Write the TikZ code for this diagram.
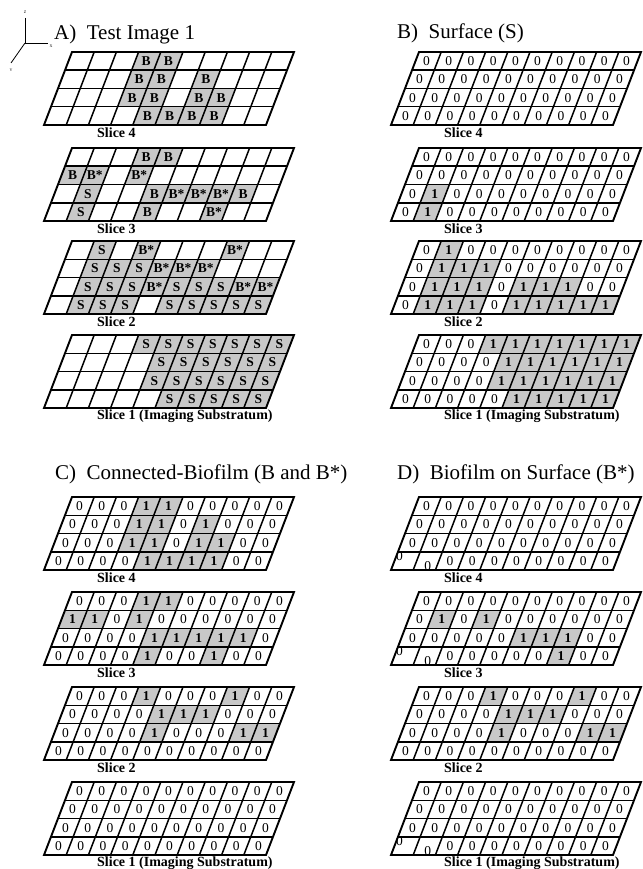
\documentclass[tikz,border=0pt]{standalone}
\usepackage{fontspec}
\setmainfont{Liberation Serif}

% one row of a slice: #1 slice name, #2 row number, #3 cell values
\newcommand{\gridrow}[3]{%
  \foreach \val [count=\col] in {#3} {
    \tikzset{v\val}
    \fill[\cellfill] (\col-1,#2-1) -- (\col,#2-1) -- (\col,#2) -- (\col-1,#2) -- cycle;
    \node[celltext, xshift=\cellxs, yshift=\cellys] (#1-#2-\col)
      at (\col-.5,#2-.5) {\celltxt};
  }}
% one slice: 10 x 4 slanted cells, top-left corner at (#2,#3), rows #4..#7
\newcommand{\slicegrid}[7]{%
  \begin{scope}[shift={(#2,#3)}, x={(22.2pt,0pt)}, y={(-7pt,-18.25pt)}]
    \gridrow{#1}{1}{#4}
    \gridrow{#1}{2}{#5}
    \gridrow{#1}{3}{#6}
    \gridrow{#1}{4}{#7}
    \foreach \k in {1,...,9} \draw[cellline] (\k,0) -- (\k,4);
    \foreach \k in {1,2,3} \draw[cellline] (0,\k) -- (10,\k);
    \draw[frameline] (0,0) -- (10,0) -- (10,4) -- (0,4) -- cycle;
  \end{scope}}

\begin{document}
\begin{tikzpicture}[
    x=1pt, y=-1pt,
    cellline/.style   = {line width=1.5pt},
    frameline/.style  = {line width=1.9pt},
    axisline/.style   = {line width=0.8pt},
    axislbl/.style    = {font=\fontsize{4}{4}\selectfont, inner sep=0pt},
    title/.style      = {font=\fontsize{21}{24}\selectfont, inner sep=0pt},
    slicelbl/.style   = {font=\fontsize{14}{16}\selectfont\bfseries,
                         inner sep=0pt, anchor=west},
    celltext/.style   = {font=\fontsize{13.5}{14}\selectfont\bfseries,
                         inner sep=0pt},
    % what a cell value puts in the cell
    celltxt/.store in = \celltxt,
    cellfill/.store in= \cellfill,
    cellxs/.store in  = \cellxs,
    cellys/.store in  = \cellys,
    cellreset/.style  = {celltxt={}, cellfill=white, cellxs=0pt, cellys=0pt},
    v-/.style   = {cellreset},
    vB/.style   = {cellreset, cellfill=cellgray, celltxt={B}},
    vB*/.style  = {cellreset, cellfill=cellgray, celltxt={B*}},
    vS/.style   = {cellreset, cellfill=cellgray, celltxt={S}},
    v0/.style   = {cellreset, celltxt={\mdseries 0}},
    v0u/.style  = {v0, cellxs=-6pt, cellys=5pt},
    v0d/.style  = {v0, cellys=-5pt},
    v1/.style   = {cellreset, cellfill=cellgray, celltxt={1}},
]
\definecolor{cellgray}{RGB}{200,200,200}
\useasboundingbox (0,0) rectangle (642,869);

% ============================================================
%  AXES (top-left)
% ============================================================
\coordinate (axo) at (25,43);
\coordinate (axz) at (25,18);
\coordinate (axx) at (48,43);
\coordinate (axy) at (11,63);
\draw[axisline] (axz) -- (axo) -- (axx);
\draw[axisline] (axo) -- (axy);
\node[axislbl] (lz) at (25,12) {Z};
\node[axislbl] (lx) at (51,46) {X};
\node[axislbl] (ly) at (11,70) {Y};

% ============================================================
%  A) TEST IMAGE 1
% ============================================================
\node[title, anchor=base west] (ttlA) at (54,40) {A)~ Test Image 1};

\slicegrid{a4}{72}{52}
  {-,-,-,B,B,-,-,-,-,-}
  {-,-,-,B,B,-,B,-,-,-}
  {-,-,-,B,B,-,B,B,-,-}
  {-,-,-,-,B,B,B,B,-,-}
\node[slicelbl] (a4lbl) at (97,133) {Slice 4};

\slicegrid{a3}{72}{148}
  {-,-,-,B,B,-,-,-,-,-}
  {B,B*,-,B*,-,-,-,-,-,-}
  {-,S,-,-,B,B*,B*,B*,B,-}
  {-,S,-,-,B,-,-,B*,-,-}
\node[slicelbl] (a3lbl) at (97,229) {Slice 3};

\slicegrid{a2}{72}{241}
  {-,S,-,B*,-,-,-,B*,-,-}
  {-,S,S,S,B*,B*,B*,-,-,-}
  {-,S,S,S,B*,S,S,S,B*,B*}
  {-,S,S,S,-,S,S,S,S,S}
\node[slicelbl] (a2lbl) at (97,322) {Slice 2};

\slicegrid{a1}{72}{335}
  {-,-,-,S,S,S,S,S,S,S}
  {-,-,-,-,S,S,S,S,S,S}
  {-,-,-,-,S,S,S,S,S,S}
  {-,-,-,-,-,S,S,S,S,S}
\node[slicelbl] (a1lbl) at (97,416) {Slice 1 (Imaging Substratum)};

% ============================================================
%  B) SURFACE (S)
% ============================================================
\node[title, anchor=base west] (ttlB) at (397,39) {B)~ Surface (S)};

\slicegrid{b4}{419}{52}
  {0,0,0,0,0,0,0,0,0,0}
  {0,0,0,0,0,0,0,0,0,0}
  {0,0,0,0,0,0,0,0,0,0}
  {0,0,0,0,0,0,0,0,0,0}
\node[slicelbl] (b4lbl) at (444,133) {Slice 4};

\slicegrid{b3}{419}{148}
  {0,0,0,0,0,0,0,0,0,0}
  {0,0,0,0,0,0,0,0,0,0}
  {0,1,0,0,0,0,0,0,0,0}
  {0,1,0,0,0,0,0,0,0,0}
\node[slicelbl] (b3lbl) at (444,229) {Slice 3};

\slicegrid{b2}{419}{241}
  {0,1,0,0,0,0,0,0,0,0}
  {0,1,1,1,0,0,0,0,0,0}
  {0,1,1,1,0,1,1,1,0,0}
  {0,1,1,1,0,1,1,1,1,1}
\node[slicelbl] (b2lbl) at (444,322) {Slice 2};

\slicegrid{b1}{419}{335}
  {0,0,0,1,1,1,1,1,1,1}
  {0,0,0,0,1,1,1,1,1,1}
  {0,0,0,0,1,1,1,1,1,1}
  {0,0,0,0,0,1,1,1,1,1}
\node[slicelbl] (b1lbl) at (444,416) {Slice 1 (Imaging Substratum)};

% ============================================================
%  C) CONNECTED-BIOFILM (B and B*)
% ============================================================
\node[title, anchor=base west] (ttlC) at (55,479) {C)~ Connected-Biofilm (B and B*)};

\slicegrid{c4}{72}{497}
  {0,0,0,1,1,0,0,0,0,0}
  {0,0,0,1,1,0,1,0,0,0}
  {0,0,0,1,1,0,1,1,0,0}
  {0,0,0,0,1,1,1,1,0,0}
\node[slicelbl] (c4lbl) at (97,578) {Slice 4};

\slicegrid{c3}{72}{592}
  {0,0,0,1,1,0,0,0,0,0}
  {1,1,0,1,0,0,0,0,0,0}
  {0,0,0,0,1,1,1,1,1,0}
  {0,0,0,0,1,0,0,1,0,0}
\node[slicelbl] (c3lbl) at (97,673) {Slice 3};

\slicegrid{c2}{72}{687}
  {0,0,0,1,0,0,0,1,0,0}
  {0,0,0,0,1,1,1,0,0,0}
  {0,0,0,0,1,0,0,0,1,1}
  {0,0,0,0,0,0,0,0,0,0}
\node[slicelbl] (c2lbl) at (97,768) {Slice 2};

\slicegrid{c1}{72}{782}
  {0,0,0,0,0,0,0,0,0,0}
  {0,0,0,0,0,0,0,0,0,0}
  {0,0,0,0,0,0,0,0,0,0}
  {0,0,0,0,0,0,0,0,0,0}
\node[slicelbl] (c1lbl) at (97,863) {Slice 1 (Imaging Substratum)};

% ============================================================
%  D) BIOFILM ON SURFACE (B*)
% ============================================================
\node[title, anchor=base west] (ttlD) at (397,479) {D)~ Biofilm on Surface (B*)};

\slicegrid{d4}{419}{497}
  {0,0,0,0,0,0,0,0,0,0}
  {0,0,0,0,0,0,0,0,0,0}
  {0,0,0,0,0,0,0,0,0,0}
  {0u,0d,0,0,0,0,0,0,0,0}
\node[slicelbl] (d4lbl) at (444,578) {Slice 4};

\slicegrid{d3}{419}{592}
  {0,0,0,0,0,0,0,0,0,0}
  {0,1,0,1,0,0,0,0,0,0}
  {0,0,0,0,0,1,1,1,0,0}
  {0u,0d,0,0,0,0,0,1,0,0}
\node[slicelbl] (d3lbl) at (444,673) {Slice 3};

\slicegrid{d2}{419}{687}
  {0,0,0,1,0,0,0,1,0,0}
  {0,0,0,0,1,1,1,0,0,0}
  {0,0,0,0,1,0,0,0,1,1}
  {0,0,0,0,0,0,0,0,0,0}
\node[slicelbl] (d2lbl) at (444,768) {Slice 2};

\slicegrid{d1}{419}{782}
  {0,0,0,0,0,0,0,0,0,0}
  {0,0,0,0,0,0,0,0,0,0}
  {0,0,0,0,0,0,0,0,0,0}
  {0u,0d,0,0,0,0,0,0,0,0}
\node[slicelbl] (d1lbl) at (444,863) {Slice 1 (Imaging Substratum)};

\end{tikzpicture}
\end{document}
